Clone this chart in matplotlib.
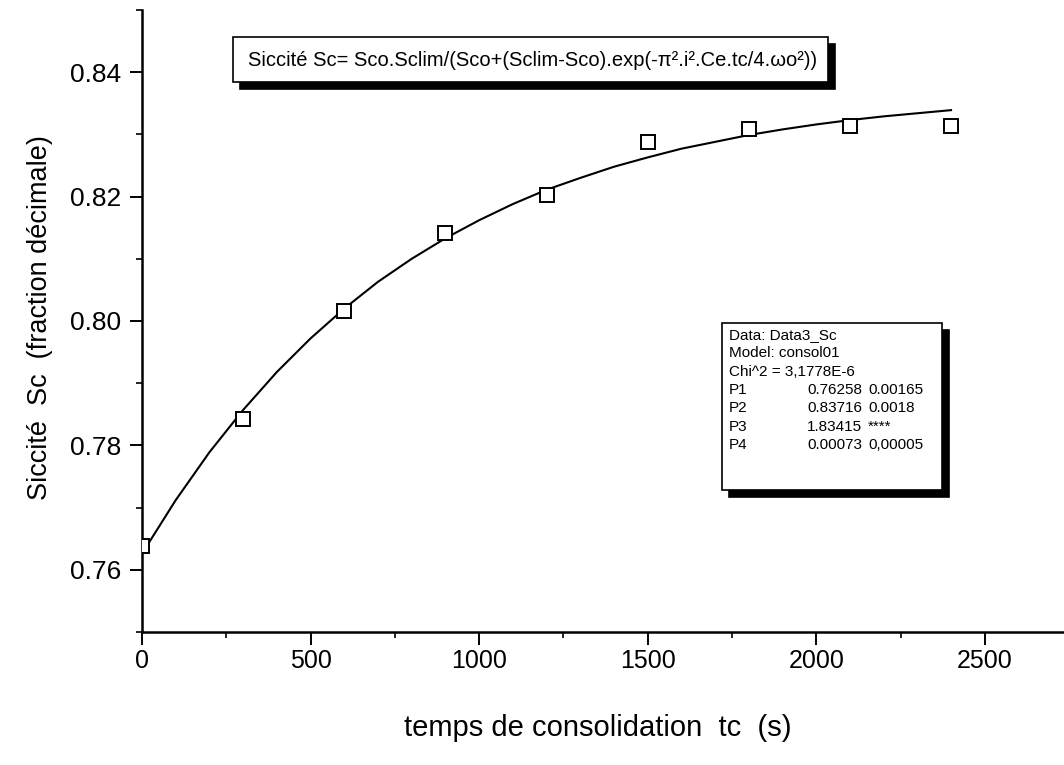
import matplotlib.pyplot as plt
from matplotlib.patches import Rectangle
from matplotlib.ticker import MultipleLocator

plt.rcParams["font.family"] = ["Liberation Sans", "DejaVu Sans"]

# Measured dryness points (every 300 s).
tc = [0, 300, 600, 900, 1200, 1500, 1800, 2100, 2400]
sc = [0.7638, 0.7843, 0.8016, 0.8141, 0.8202, 0.8288, 0.8309, 0.8314, 0.8314]

# Fitted curve, every 100 s.
fit_tc = [0, 100, 200, 300, 400, 500, 600, 700, 800, 900, 1000, 1100, 1200,
          1300, 1400, 1500, 1600, 1700, 1800, 1900, 2000, 2100, 2200, 2300, 2400]
fit_sc = [0.7626, 0.7712, 0.7789, 0.7857, 0.7918, 0.7972, 0.8020, 0.8063, 0.8100,
          0.8133, 0.8162, 0.8188, 0.8211, 0.8230, 0.8248, 0.8263, 0.8277, 0.8288,
          0.8299, 0.8308, 0.8316, 0.8323, 0.8329, 0.8334, 0.8339]

# Fit report shown in the box.
fit_info = ["Data: Data3_Sc", "Model: consol01", "Chi^2 = 3,1778E-6"]
param_names = ["P1", "P2", "P3", "P4"]
param_values = ["0.76258", "0.83716", "1.83415", "0.00073"]
param_errors = ["0.00165", "0.0018", "****", "0,00005"]

W, H = 1064, 765
fig = plt.figure(figsize=(W / 100, H / 100), dpi=100)
ax = fig.add_axes([142 / W, 1 - 632 / H, 1 - 142 / W, 622 / H])

ax.plot(fit_tc, fit_sc, color="black", linewidth=1.5, zorder=2)
ax.plot(tc, sc, linestyle="none", marker="s", markersize=9.5, markerfacecolor="white",
        markeredgecolor="black", markeredgewidth=1.4, zorder=3)

ax.set_xlim(0, 2735)
ax.set_ylim(0.75, 0.85)
ax.xaxis.set_major_locator(MultipleLocator(500))
ax.xaxis.set_minor_locator(MultipleLocator(250))
ax.yaxis.set_major_locator(MultipleLocator(0.02))
ax.yaxis.set_minor_locator(MultipleLocator(0.01))
ax.yaxis.set_major_formatter(plt.FormatStrFormatter("%.2f"))

for side in ["top", "right"]:
    ax.spines[side].set_visible(False)
for side in ["left", "bottom"]:
    ax.spines[side].set_linewidth(1.8)
ax.tick_params(which="major", direction="out", length=9, width=1.4)
ax.tick_params(which="minor", direction="out", length=4.5, width=1.2)
ax.tick_params(axis="x", pad=3, labelsize=18)
ax.tick_params(axis="y", pad=6, labelsize=19)

fig.text(598 / W, 1 - 728 / H, "temps de consolidation  tc  (s)", fontsize=21,
         ha="center", va="center")
fig.text(40 / W, 1 - 318 / H, "Siccité  Sc  (fraction décimale)", fontsize=19.5,
         ha="center", va="center", rotation=90)


def shadow_box(x0, y0, x1, y1, off=7):
    # box given in pixels from the top-left corner, with a black drop shadow
    for dx, fc in [(off, "black"), (0, "white")]:
        fig.patches.append(Rectangle(((x0 + dx) / W, 1 - (y1 + dx) / H), (x1 - x0) / W,
                                     (y1 - y0) / H, transform=fig.transFigure,
                                     facecolor=fc, edgecolor="black", linewidth=1.2))


# Model equation box
shadow_box(233, 37, 828, 82)
fig.text(533 / W, 1 - 60 / H, "Siccité Sc= Sco.Sclim/(Sco+(Sclim-Sco).exp(-π².i².Ce.tc/4.ωo²))",
         fontsize=14.5, ha="center", va="center")

# Fit parameters box
shadow_box(722, 323, 942, 490)
rows = [335, 353, 372, 390, 408, 427, 445]
for i, line in enumerate(fit_info):
    fig.text(729 / W, 1 - rows[i] / H, line, fontsize=11, va="center")
for i in range(len(param_names)):
    y = 1 - rows[i + 3] / H
    fig.text(729 / W, y, param_names[i], fontsize=11, va="center")
    fig.text(807 / W, y, param_values[i], fontsize=11, va="center")
    fig.text(868 / W, y, param_errors[i], fontsize=11, va="center")

plt.savefig("out.png", dpi=100)
